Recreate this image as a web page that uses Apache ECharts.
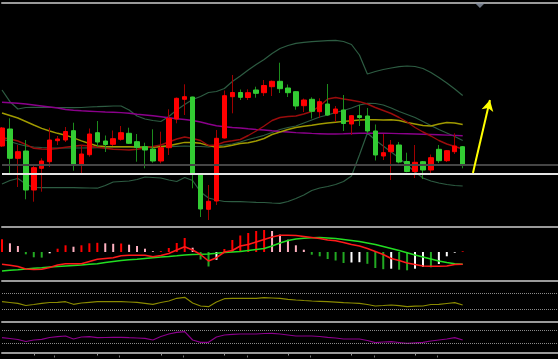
<!DOCTYPE html>
<html><head><meta charset="utf-8">
<script src="https://cdn.jsdelivr.net/npm/echarts@6/dist/echarts.min.js"></script>
<style>html,body{margin:0;padding:0;background:#000;}#c{width:558px;height:359px;}</style>
</head><body><div id="c"></div>
<script>
// ---- data (price in points) ----
const categories = Array.from({length: 71}, (_, i) => String(i));
const candleOpen  = [81,98,68.7,76,37,58.7,65.3,86.3,87,96.3,62,72.3,94.3,86,82.7,87.7,93.7,85.3,80.3,78,66,79.3,108,127.7,130,53,17.7,26,89,130.3,134.5,129.5,137,134.3,140.3,145.7,139,135.3,121.3,127.7,115.3,123,113.7,117,103,111.3,111,96,71,75.3,82,65.5,55.5,65.3,57,77.7,66.3,75.3,80.3];
const candleClose = [99,68.7,75.3,37,59.3,66,87,88,95.5,62,73,93,85,82.5,88.3,94.3,83.7,79.7,77,66,79.3,108.7,128.7,130.3,53,18,25.7,88.7,131.3,134.5,129.7,134.3,133.7,141.5,145.7,138.3,134.3,121,127,115.7,125.3,112,118,103.5,111.3,109.5,96,72,74.3,82,65,55.5,64.7,57,69.3,66.3,76.3,81,62];
const candleLow   = [80,54,40,27.7,25.3,35.3,60,82,85,56.3,53,70.3,80,75,81,86.3,83,65.3,58.7,64.3,63.7,72,103.7,112,38.7,10,7,22,88.5,113.7,127,127,129.3,131,131,134,130,117.3,115,108.5,109,111,105,96,92,101,93.7,66.5,67,47,63.7,54.7,49,48,54,64,65,73,58.7];
const candleHigh  = [100,108.7,82,87,61,68.7,99.3,91,100,104.3,82,98.5,106,91.5,96.5,101,99.3,93,84.3,97.7,95.3,117.7,129.5,142.7,130.3,53,42,97,136.5,152,137.5,137.7,140.3,147,146.5,164.3,142.5,135.5,128.5,129.7,128.7,143,121,132,112,122,119,102.5,93,87,85,74.3,82,66,72.5,82,77,93.7,81];

const maPurple = [124.7,124.2,123.7,123,122,121,120,119,117.5,116.7,116.2,115.8,115.4,115,114.7,114.4,113.7,112.8,112,111.2,110.2,109.2,108.2,107.5,106.5,105,103,101.3,100.3,99.5,99,98.2,97.5,97,96.2,95.5,95,94.4,94,93.6,93.3,93,93,93.2,93.5,93.7,93.7,93.8,93.7,93.6,93.4,93.2,93,92.8,92.5,92.2,91.9,91.6,91.3];
const maYellow = [114,111.5,109,105.5,102,98.7,96,93.7,91.8,89.2,86.2,83.5,81,80.5,80.3,80.3,80.2,80,79.7,79.7,80.5,81.2,83,84.6,84.5,83.7,81.5,79.7,80.2,81.8,83.5,84.3,86,88.5,92.5,95,97.5,99.5,100.7,101.8,103,104,104.8,105.6,106.2,107,107.2,107.2,107,107.2,106.5,104.5,103,101.5,101,103,104.5,104,102.5];
const maRed    = [89.3,88,86,82.5,78.7,78,77.7,78.5,79.7,80.7,81.8,81,79.8,78.7,77.8,77.4,77,77.8,79,80.5,82,85,88,90,88.5,86.5,81.5,82,85,86.2,87.5,91.5,96,101,106.5,109.5,110.5,111,113,115.5,121,128,129.5,128,126.8,125.3,123,119.5,116.5,113.5,109.5,105,99.5,95,91,86.5,83,80.5,78];
const bbUpper  = [137,125.3,118,119.5,119.7,119.7,119.7,119.5,119.3,119.3,119.5,120,120.3,120.7,121,121,117,111,108,106.5,105.5,110.5,117,122.5,127.5,130.5,134.5,135.5,138.5,145.5,151,157,162.5,167.5,173.5,178.5,181.5,183.7,184.7,185.3,185.8,186.3,186.7,185.5,182.5,172,153,155.5,157.5,159,160.3,161,160.5,158.5,154.5,149.5,144,138,131.5];
const bbMiddle = [88,85.5,83,81,80,79.5,79.2,79,79,79,79,79.2,79.4,79.7,80,80,80,80,80,80,80,80.3,80.7,81,80.7,80.5,80,81,82,83,85,87.5,89.5,91.7,94.5,97.5,99.5,101,104,107,110,112,114.5,116.5,119,122,123.7,123.5,122,119,115.5,112.5,109.5,105.5,101.5,97.5,94,90.5,86.5];
const bbLower  = [43,46.5,48.5,43,39.5,39.3,39.3,39.3,39.3,39.3,39.2,39,38.8,41.5,45,45.5,46,47.5,50,49.5,49,47,45.5,49.5,46.5,35,29,27,25.5,25.3,25.3,25,24.7,24.5,24,23.7,25.5,28.5,32,36.5,39,40.5,42.5,45.5,51,72,94,87,81,75,69,62,55,49,46,44,42.5,41.5,41];
const priceLevels = [62, 53];

const macdHist   = [12.7,8.7,6,-2.3,-5.3,-5.6,-1.3,3.3,6.7,5.3,6.7,8.7,9.2,8.7,8.2,8.5,7.3,6,3.3,0.8,0.9,4,9,14,4.3,-7.5,-14.5,-7.8,3,12,16.5,19,21,22,21,17.3,12.3,6.7,2.3,-2.7,-4.3,-7,-8.5,-11,-10.5,-10.2,-11.8,-16,-17.2,-16.7,-17.7,-18.3,-16.7,-15,-15.3,-12,-4.3,-0.7,0.7];
const macdLine   = [-12.3,-13.3,-14.5,-17,-17.5,-17.3,-15.5,-13,-11.7,-11.7,-11.7,-9.5,-7.3,-6.5,-5.7,-3.8,-3.3,-3.3,-3.3,-4.7,-3.5,-1.5,2,5.3,2,-2.5,-9,-5.7,0,1.5,6,7.5,10,12.5,15,16.7,16.8,16.5,15.5,14.5,13.5,12,11.2,9.5,7.5,6,3.5,0.5,-2.5,-6.5,-8.5,-11,-12.5,-14,-14.3,-14.2,-14,-12.5,-12.3];
const macdSignal = [-19,-18.3,-17.7,-17,-16.3,-15.7,-15,-14.5,-14,-13.5,-13,-12.3,-11.7,-10.5,-9.5,-8.5,-7.8,-7.3,-6.5,-5.7,-5,-4.5,-3.8,-3,-2.5,-2.3,-2,-1.3,-0.5,0,0.5,1.5,2.5,3.5,6,9,11.5,13,13.7,14.3,14.5,14,13.5,12.5,11.5,10.5,9,7.5,5.5,3.5,1.5,-0.7,-3,-5,-7,-9,-10.5,-11.7,-12.3];

const osc1 = [49.5,47.5,45.5,40,42.5,45.5,47.5,48,49.5,43,46.3,48,49.5,49.5,49.5,49.5,48.8,48,45.5,43,47.5,51.3,58,60.5,46.3,38.8,37,48.8,57,58,58,58,58,59.5,58.8,58,55.5,53.8,52.5,51.3,50.5,49.5,48.3,47,46.3,45.5,42.5,38.8,40,41.3,39.5,37,38.3,38.8,42.5,43,45,47,41.3];
const osc2 = [47.4,44.8,41.6,35.2,40,42.2,48,50.6,52.8,43.2,49.6,50.6,47.4,48,48.6,48.6,47.4,46.4,45.4,40,51.2,59.2,64.6,66.6,40,32.6,32.6,49.6,56,58.2,59.2,59.2,59.2,60.8,61.4,59.2,56,52.8,52.8,52.8,51.2,48.6,46.4,43.2,43.2,43.2,38.4,31.4,33.6,34.6,32,29.4,31,32.6,36.8,40,43.2,47.4,40];
const oscLevels = [70, 30];

const arrowStart = [59.29, 54];
const arrowEnd   = [61.43, 127];
const shiftMarker = [60.17, 221.5];
const majorTicks = [4, 12, 20, 28, 36, 44, 52];
const minorTicks = [6.6, 14.7, 22.8, 30.9, 38.8, 46.9, 54.8];

// ---- build ----
const ohlc = candleOpen.map((o, i) => [o, candleClose[i], candleLow[i], candleHigh[i]]);
const bodies = candleOpen.map((o, i) => [o, candleClose[i], Math.min(o, candleClose[i]), Math.max(o, candleClose[i])]);

function histColor(i) {
  const v = macdHist[i], p = i > 0 ? macdHist[i - 1] : v;
  if (v >= 0) return v >= p ? '#ff0000' : '#ffb0c0';
  return v <= p ? '#22aa22' : '#ffffff';
}

const GRAY = '#9a9a9a';
const noDeco = { axisTick: {show: false}, axisLabel: {show: false}, splitLine: {show: false} };
function catX(gridIndex) {
  return Object.assign({ type: 'category', gridIndex, data: categories, boundaryGap: false,
    axisLine: {show: true, onZero: false, lineStyle: {color: GRAY, width: 2}} }, noDeco);
}
function valY(gridIndex, min, max) {
  return Object.assign({ type: 'value', gridIndex, min, max, show: false,
    axisLine: {show: false, onZero: false} }, noDeco);
}
function lineS(data, color, xi, yi, w, z) {
  return { type: 'line', data, xAxisIndex: xi, yAxisIndex: yi, symbol: 'none', silent: true,
    lineStyle: {color, width: w || 1.2}, itemStyle: {color}, z: z || 2 };
}
function levelMark(values) {
  return { silent: true, symbol: ['none', 'none'], label: {show: false},
    lineStyle: {color: '#8a8a8a', width: 1, type: 'dotted'},
    data: values.map(v => ({yAxis: v})) };
}

const option = {
  backgroundColor: '#000000',
  animation: false,
  grid: [
    {left: 2, right: 0, top: 3, height: 224},
    {left: 2, right: 0, top: 227, height: 54},
    {left: 2, right: 0, top: 281, height: 40.5},
    {left: 2, right: 0, top: 321.5, height: 31}
  ],
  xAxis: [
    catX(0),
    Object.assign({type: 'value', gridIndex: 0, position: 'top', min: 0, max: 70,
      axisLine: {show: true, onZero: false, lineStyle: {color: GRAY, width: 2}}}, noDeco),
    catX(1),
    catX(2),
    catX(3),
    {type: 'value', gridIndex: 3, position: 'bottom', min: 0, max: 70,
      axisLine: {show: false, onZero: false}, axisLabel: {show: false}, splitLine: {show: false},
      axisTick: {show: true, customValues: majorTicks, length: 3, lineStyle: {color: GRAY, width: 1}}},
    {type: 'value', gridIndex: 3, position: 'bottom', offset: 3, min: 0, max: 70,
      axisLine: {show: false, onZero: false}, axisLabel: {show: false}, splitLine: {show: false},
      axisTick: {show: true, customValues: minorTicks, length: 2, lineStyle: {color: '#777', width: 1}}}
  ],
  yAxis: [
    valY(0, 0, 224),
    valY(1, -29, 25),
    valY(2, 0, 101.25),
    valY(3, 0, 99.2)
  ],
  series: [
    lineS(bbUpper, '#2d5c42', 0, 0, 1.2),
    lineS(bbMiddle, '#2d5c42', 0, 0, 1.2),
    lineS(bbLower, '#2d5c42', 0, 0, 1.2),
    lineS(maPurple, '#8b008b', 0, 0, 1.4),
    lineS(maYellow, '#a09a00', 0, 0, 1.4),
    lineS(maRed, '#9a0c0c', 0, 0, 1.4),
    { type: 'candlestick', xAxisIndex: 0, yAxisIndex: 0, data: ohlc, barWidth: 1, silent: true, z: 3,
      itemStyle: {color: '#a00000', color0: '#1c8c1c', borderColor: '#a00000', borderColor0: '#1c8c1c', borderWidth: 1} },
    { type: 'candlestick', xAxisIndex: 0, yAxisIndex: 0, data: bodies, barWidth: 5, silent: true, z: 4,
      itemStyle: {color: '#ff0000', color0: '#33cc33', borderColor: '#ff0000', borderColor0: '#33cc33', borderWidth: 1},
      markLine: { silent: true, symbol: ['none', 'none'], label: {show: false},
        data: [
          {yAxis: priceLevels[0], lineStyle: {color: '#454545', width: 2, type: 'solid'}},
          {yAxis: priceLevels[1], lineStyle: {color: '#e4e4e4', width: 2, type: 'solid'}}
        ] } },
    { type: 'line', xAxisIndex: 1, yAxisIndex: 0, data: [arrowStart, arrowEnd], symbol: 'none', silent: true, z: 6,
      lineStyle: {opacity: 0},
      markLine: { silent: true, symbol: ['none', 'arrow'], symbolSize: [9, 11], label: {show: false},
        lineStyle: {color: '#ffff00', width: 2, type: 'solid'},
        data: [[{coord: arrowStart}, {coord: arrowEnd}]] } },
    { type: 'scatter', xAxisIndex: 1, yAxisIndex: 0, data: [shiftMarker], symbol: 'triangle', symbolRotate: 180,
      symbolSize: [10, 5], silent: true, itemStyle: {color: '#8c96a6'}, z: 7 },
    { type: 'bar', xAxisIndex: 2, yAxisIndex: 1, data: macdHist, barWidth: 2, silent: true,
      itemStyle: {color: p => histColor(p.dataIndex)} },
    lineS(macdSignal, '#22dd22', 2, 1, 1.6, 3),
    lineS(macdLine, '#ff1a1a', 2, 1, 1.6, 4),
    Object.assign(lineS(osc1, '#8a8a00', 3, 2, 1.2), {markLine: levelMark(oscLevels)}),
    Object.assign(lineS(osc2, '#8b008b', 4, 3, 1.2), {markLine: levelMark(oscLevels)})
  ]
};

const chart = echarts.init(document.getElementById('c'), null, {renderer: 'canvas'});
chart.setOption(option);
</script></body></html>
